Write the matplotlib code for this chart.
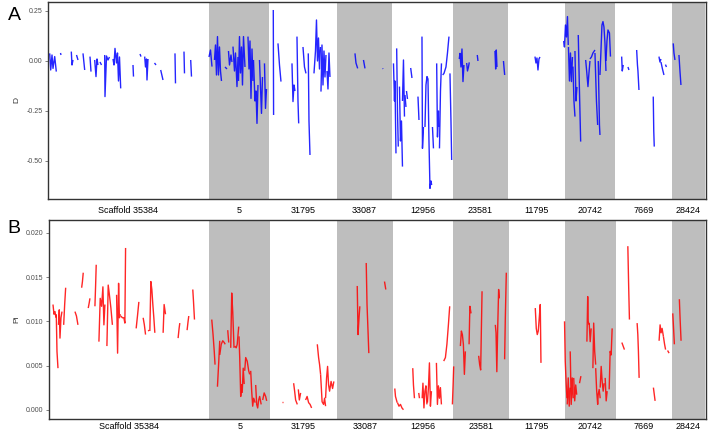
import matplotlib
matplotlib.use("Agg")
import matplotlib.pyplot as plt
import numpy as np

plt.rcParams['font.family'] = ['Liberation Sans', 'DejaVu Sans']

# scaffolds laid end to end (position units along the concatenated axis)
scaffolds = ["Scaffold 35384", "5", "31795", "33087", "12956",
             "23581", "11795", "20742", "7669", "28424"]
widths = [160, 62, 66, 57, 59, 57, 55, 52, 55, 35]
shaded = [False, True, False, True, False, True, False, True, False, True]

# Tajima's D, one list per continuous run of windows
d_x = [
    [1.7, 2.7, 4.0, 5.0, 6.7, 8.3], [12.5, 13.0], [23.3, 24.0, 25.0], [28.5, 30.0],
    [35.0, 36.7], [42.0, 43.0], [46.7, 48.0, 49.0, 50.0], [52.0, 53.5],
    [56.7, 57.0, 58.5, 60.0, 61.5], [65.0, 66.0, 67.0, 68.5, 69.5, 70.5, 71.5, 72.7],
    [85.0, 85.5], [92.0, 93.0], [96.7, 97.5, 98.5, 99.0, 100.0], [106.5, 108.0],
    [112.7, 115.0], [127.0, 127.5], [136.0, 136.5], [142.7, 143.5],
    # 5
    [161, 162.5, 164], [166.5, 167.5, 168.5, 169.5, 170.5, 171.5, 172.5, 173.5],
    [177, 179], [180.5, 181.5, 183, 184], [185, 186.5, 187.5, 189, 190],
    [190.5, 191.5, 192.5, 193.5, 194.5, 195.5, 197], [200, 201, 202, 203, 204, 205],
    [205.5, 207, 208, 209, 210], [211.5, 212.5, 213.5, 214.5], [216.5, 217.5, 218.5],
    # 31795
    [225.3, 225.6], [230.0, 231.5, 233.0], [244.0, 245.0, 246.0, 247.0],
    [249.0, 250.0, 250.7], [255.0, 256.5, 258.0], [260.3, 261.0, 262.0],
    [266.0, 267.5, 268.5, 269.5, 270.5, 271.5, 272.5],
    [273.0, 274.0, 275.0, 276.0, 277.0, 278.0], [279.0, 280.0, 281.0, 282.0],
    # 33087
    [307.0, 308.0, 309.7], [315.5, 317.0], [334.7, 335.0],
    # 12956
    [345.5, 346.5, 347.0, 348.0], [348.7, 349.5, 350.3], [351.5, 352.5, 353.5, 354.5],
    [354.5, 355.5, 356.5], [357.0, 358.0], [358.5, 359.5], [362.7, 364.0],
    [370.0, 371.0], [374.0, 374.5, 375.5],
    [377.0, 378.0, 379.0, 380.0, 381.0, 382.0, 383.0, 383.7], [384.5, 385.5],
    [388.7, 389.5, 390.5, 391.0], [391.5, 392.5, 393.5],
    [394.7, 396.0, 398.0, 399.5, 401.0], [402.0, 403.0, 403.7],
    # 23581
    [411.3, 412.0, 413.0, 414.0, 415.0, 416.0], [418.7, 419.5, 420.5, 421.3],
    [429.3, 430.0], [447.0, 447.7, 448.3, 449.0], [455.5, 456.0, 456.7],
    # 11795
    [487.0, 488.0, 489.0, 490.0, 491.0, 492.0],
    # 20742
    [515.7, 516.5, 517.5, 518.5, 519.5, 520.3], [520.5, 521.5, 522.5, 523.5, 524.5],
    [525.0, 526.0, 527.0], [527.0, 528.0, 529.0], [530.3, 531.5, 532.7],
    [537.7, 538.7, 540.0, 541.0, 542.0], [542.0, 543.5, 545.0, 547.0],
    [547.0, 548.5, 549.7], [550.3, 551.5, 552.0],
    [552.0, 553.0, 554.0, 555.0, 556.0, 557.0, 558.0], [558.0, 559.0, 560.0, 561.5, 562.5],
    # 7669
    [573.7, 574.3, 575.3], [580.0, 581.0], [588.7, 589.5, 590.0, 591.0],
    [605.3, 605.8, 606.3], [611.0, 612.0, 613.0], [613.0, 614.5, 616.0], [617.5, 618.5],
    # 28424
    [625.3, 626.0, 627.0], [631.0, 632.0, 633.0],
]
d_y = [
    [0.038, -0.045, 0.030, -0.037, 0.022, -0.053], [0.040, 0.030], [0.047, -0.020, 0.005],
    [0.030, 0.005], [0.038, -0.045], [0.022, -0.053], [0.005, -0.078, 0.010, -0.020],
    [-0.005, -0.020], [0.030, -0.178, 0.025, 0.005, 0.020],
    [0.010, -0.020, 0.063, -0.010, 0.040, -0.100, 0.020, -0.137],
    [-0.020, -0.078], [0.035, 0.022], [0.022, -0.030, 0.010, -0.095, 0.010], [-0.010, -0.020],
    [-0.045, -0.095], [0.038, -0.112], [0.047, -0.062], [0.005, -0.078],
    [0.020, 0.055, -0.028], [0.005, 0.080, -0.070, 0.122, -0.070, 0.070, -0.050, -0.100],
    [-0.030, -0.040], [0.050, -0.020, 0.030, -0.005], [0.072, -0.050, 0.040, -0.128, 0.020],
    [-0.100, 0.122, -0.060, 0.070, -0.120, 0.122, -0.030], [0.122, -0.040, 0.100, -0.187, 0.060, -0.100],
    [0.005, -0.200, -0.150, -0.312, -0.120], [0.005, -0.130, -0.262, -0.080], [-0.012, -0.237, -0.140],
    [0.255, -0.270], [0.088, -0.020, -0.103], [-0.012, -0.203, -0.120, -0.150],
    [0.122, -0.200, -0.312], [0.070, -0.030, -0.062], [0.038, -0.300, -0.470],
    [-0.062, 0.050, 0.205, 0.000, 0.115, -0.040, 0.070],
    [-0.153, 0.080, -0.120, 0.050, -0.080, 0.030], [-0.050, -0.140, 0.040, -0.080],
    [0.038, -0.010, -0.037], [0.005, -0.037], [-0.037, -0.040],
    [-0.012, -0.200, -0.100, -0.462], [0.063, -0.250, -0.428], [-0.128, -0.400, -0.300, -0.528],
    [-0.200, 0.005, -0.278], [-0.170, -0.230], [-0.150, -0.190], [-0.035, -0.085],
    [-0.178, -0.295], [0.122, -0.437, -0.330],
    [-0.330, -0.120, -0.078, -0.090, -0.400, -0.637, -0.600, -0.620], [-0.330, -0.437],
    [-0.012, -0.380, -0.250, -0.330], [-0.437, -0.150, -0.012],
    [-0.070, -0.062, -0.030, 0.040, 0.122], [-0.062, -0.300, -0.495],
    [0.010, 0.038, -0.030, 0.060, -0.103, -0.020], [-0.010, -0.050, -0.030, -0.007],
    [0.030, 0.000], [0.050, -0.040, 0.055, -0.030], [0.000, -0.030, -0.070],
    [0.022, -0.010, 0.015, -0.045, 0.010, 0.020],
    [0.100, 0.070, 0.180, 0.120, 0.222, 0.080], [0.070, -0.100, 0.040, -0.103, 0.020],
    [-0.028, -0.200, -0.278], [0.050, -0.200, -0.130], [0.130, -0.150, -0.403],
    [0.005, -0.050, -0.128, -0.060, 0.000], [0.010, 0.020, 0.040, 0.055],
    [0.040, -0.200, -0.320], [0.000, -0.320, -0.370],
    [-0.070, 0.050, 0.180, 0.197, 0.170, 0.090, -0.050], [0.000, 0.100, 0.155, 0.140, 0.022],
    [0.022, -0.050, -0.020], [-0.030, -0.045], [0.055, -0.020, -0.050, -0.145],
    [-0.178, -0.350, -0.428], [0.022, -0.005, 0.010], [-0.005, -0.040, -0.070], [-0.018, -0.030],
    [0.088, 0.040, 0.005], [0.030, -0.050, -0.120],
]

# nucleotide diversity (Pi)
pi_x = [
    [4.0, 5.0, 6.0, 7.0], [7.3, 8.0, 9.0], [9.5, 10.3, 11.0, 12.0, 13.0], [14.7, 15.7, 16.7],
    [26.0, 27.5, 29.0], [32.7, 33.5, 34.3], [39.3, 40.3, 41.0], [46.0, 46.7, 47.3],
    [50.0, 51.3, 52.7, 54.0, 55.0, 56.0], [58.0, 59.3, 60.5, 62.0, 63.5],
    [67.7, 68.7, 69.7, 70.5, 71.5], [72.0, 73.5, 75.0, 76.0, 76.7],
    [87.3, 88.7, 90.0], [94.3, 95.5, 96.7], [99.3, 100.3],
    [101.0, 102.0, 103.0, 104.0, 105.0, 106.0], [110.7, 111.2], [114.3, 115.3, 116.7],
    [129.3, 130.3, 131.0], [138.3, 139.3, 140.0], [144.0, 144.7, 145.7],
    # 5
    [163.0, 164.3, 165.5, 166.3], [168.7, 170.0, 171.0], [171.0, 172.5, 174.0, 175.5, 176.5],
    [179.0, 180.0], [182.0, 183.0, 184.0, 185.3], [186.0, 187.5, 188.5, 190.0],
    [190.3, 191.0, 192.0, 193.0], [193.5, 194.5, 195.5], [196.0, 197.0, 198.5, 200.0, 201.0],
    [202.0, 203.0, 204.0, 205.0, 206.5], [207.0, 208.0, 209.0, 210.0, 211.0, 212.5],
    [214.0, 215.5, 217.0, 218.0],
    # 31795
    [227.0, 227.5], [233.7, 234.2], [245.0, 246.0, 247.0, 248.7], [249.7, 250.7, 252.0],
    [257.0, 258.5, 260.0, 261.5, 263.0], [268.7, 270.0, 271.0, 272.0],
    [272.0, 273.5, 275.0, 276.0, 277.0],
    [277.0, 278.0, 279.0, 280.0, 281.0, 282.5, 284.0, 285.3],
    # 33087
    [308.7, 309.5, 310.5, 311.3], [317.7, 318.5, 319.5, 320.3], [336.0, 337.3],
    # 12956
    [346.3, 347.0, 348.7], [349.0, 350.5, 352.0, 353.5, 355.0], [359.3, 359.8],
    [364.3, 365.0, 366.0], [370.3, 371.0], [373.7, 374.5, 375.5, 376.5, 377.5, 378.5],
    [379.0, 380.0, 381.0, 382.0, 383.0], [388.0, 389.0, 390.0, 391.0, 392.0, 393.0],
    [395.3, 397.0, 398.5, 400.0, 401.3], [404.0, 404.7, 405.3],
    # 23581
    [412.0, 413.0, 414.0, 415.0, 416.0, 417.0], [420.7, 421.5, 422.7],
    [430.3, 431.3, 432.3, 433.7], [447.0, 447.7, 448.5, 449.3, 450.3, 451.0],
    [456.3, 457.0, 458.0],
    # 11795
    [487.0, 488.0, 489.0, 490.0, 491.0, 492.0, 492.7],
    # 20742
    [516.3, 517.0, 518.0, 518.7], [519.0, 520.0, 521.0, 522.0], [522.0, 523.0, 524.0, 525.0],
    [525.5, 526.5, 527.5, 528.5], [531.3, 532.7], [538.7, 539.5, 540.0, 541.0],
    [541.0, 542.0, 543.0], [544.7, 545.5, 546.5, 547.5],
    [547.5, 548.5, 549.5, 550.0, 551.0, 552.0], [552.0, 553.0, 554.0, 555.0, 556.0],
    [557.0, 558.0, 559.0], [561.0, 562.0, 563.0, 564.0],
    # 7669
    [573.7, 575.0, 576.3], [579.7, 580.5, 581.3], [589.0, 589.7, 590.3, 591.0],
    [605.3, 607.0], [611.0, 612.0, 613.0, 614.0, 615.3], [615.3, 616.5, 617.5], [619.5, 621.0],
    # 28424
    [624.7, 625.5, 626.3], [631.3, 632.0, 633.0],
]
pi_y = [
    [0.0119, 0.0108, 0.0111, 0.0104], [0.0108, 0.0066, 0.0047],
    [0.0096, 0.0113, 0.0081, 0.0104, 0.0111], [0.0096, 0.0119, 0.0138],
    [0.0111, 0.0106, 0.0096], [0.0138, 0.0145, 0.0155], [0.0115, 0.0121, 0.0126],
    [0.0117, 0.0141, 0.0164], [0.0077, 0.0126, 0.0117, 0.0139, 0.0096, 0.0119],
    [0.0072, 0.0141, 0.0130, 0.0115, 0.0096], [0.0130, 0.0064, 0.0143, 0.0104, 0.0108],
    [0.0106, 0.0104, 0.0104, 0.0098, 0.0183], [0.0092, 0.0107, 0.0122],
    [0.0104, 0.0096, 0.0085], [0.0090, 0.0089], [0.0089, 0.0145, 0.0136, 0.0119, 0.0104, 0.0087],
    [0.0081, 0.0081], [0.0087, 0.0119, 0.0108], [0.0081, 0.0092, 0.0098],
    [0.0090, 0.0100, 0.0106], [0.0136, 0.0123, 0.0102],
    [0.0102, 0.0085, 0.0066, 0.0051], [0.0026, 0.0054, 0.0078],
    [0.0062, 0.0074, 0.0078, 0.0076, 0.0074], [0.0090, 0.0076],
    [0.0070, 0.0132, 0.0111, 0.0070], [0.0072, 0.0070, 0.0074, 0.0094],
    [0.0083, 0.0059, 0.0015, 0.0029], [0.0019, 0.0047, 0.0029],
    [0.0044, 0.0059, 0.0055, 0.0044, 0.0040], [0.0044, 0.0021, 0.0004, 0.0013, 0.0008],
    [0.0028, 0.0006, 0.0002, 0.0011, 0.0015, 0.0006], [0.0011, 0.0019, 0.0015, 0.0010],
    [0.0002, 0.0002], [0.0009, 0.0009], [0.0030, 0.0021, 0.0011, 0.0006],
    [0.0023, 0.0011, 0.0019], [0.0011, 0.0015, 0.0008, 0.0006, 0.0002],
    [0.0074, 0.0059, 0.0051, 0.0040], [0.0040, 0.0009, 0.0006, 0.0013, 0.0004],
    [0.0013, 0.0036, 0.0049, 0.0028, 0.0021, 0.0032, 0.0024, 0.0032],
    [0.0140, 0.0085, 0.0104, 0.0117], [0.0166, 0.0119, 0.0089, 0.0064], [0.0145, 0.0136],
    [0.0024, 0.0015, 0.0008], [0.0008, 0.0004, 0.0006, 0.0002, 0.0000], [0.0028, 0.0028],
    [0.0047, 0.0028, 0.0013], [0.0019, 0.0013], [0.0013, 0.0030, 0.0002, 0.0021, 0.0027, 0.0006],
    [0.0008, 0.0025, 0.0053, 0.0004, 0.0021], [0.0053, 0.0006, 0.0027, 0.0013, 0.0025, 0.0006],
    [0.0055, 0.0059, 0.0074, 0.0096, 0.0117], [0.0006, 0.0028, 0.0049],
    [0.0072, 0.0089, 0.0085, 0.0074, 0.0040, 0.0066], [0.0074, 0.0117, 0.0109],
    [0.0061, 0.0051, 0.0045, 0.0134], [0.0096, 0.0087, 0.0043, 0.0089, 0.0136, 0.0126],
    [0.0057, 0.0104, 0.0155],
    [0.0115, 0.0092, 0.0085, 0.0089, 0.0104, 0.0119, 0.0053],
    [0.0100, 0.0055, 0.0028, 0.0013], [0.0006, 0.0036, 0.0004, 0.0025],
    [0.0066, 0.0006, 0.0036, 0.0013], [0.0036, 0.0010, 0.0028, 0.0017], [0.0030, 0.0038],
    [0.0077, 0.0128, 0.0100, 0.0096], [0.0098, 0.0077, 0.0092], [0.0047, 0.0098, 0.0066, 0.0051],
    [0.0047, 0.0021, 0.0006, 0.0017, 0.0023, 0.0013], [0.0025, 0.0049, 0.0032, 0.0021, 0.0030],
    [0.0036, 0.0010, 0.0021], [0.0023, 0.0066, 0.0062, 0.0092],
    [0.0076, 0.0072, 0.0068], [0.0185, 0.0141, 0.0102], [0.0098, 0.0085, 0.0066, 0.0036],
    [0.0025, 0.0010], [0.0078, 0.0096, 0.0087, 0.0092, 0.0083], [0.0083, 0.0074, 0.0068],
    [0.0067, 0.0064],
    [0.0109, 0.0092, 0.0074], [0.0125, 0.0104, 0.0078],
]

d_ticks = [0.25, 0.0, -0.25, -0.5]
pi_ticks = [0.0, 0.005, 0.010, 0.015, 0.020]

edges = np.concatenate([[0], np.cumsum(widths)])
centers = (edges[:-1] + edges[1:]) / 2

fig = plt.figure(figsize=(7.09, 4.32), dpi=100)
axA = fig.add_axes([0.0677, 0.5394, 0.928, 0.456])
axB = fig.add_axes([0.0691, 0.0301, 0.9267, 0.4606])


def style(ax, xs, ys, color, ylim, ticks, fmt, ylabel, pad):
    for i in range(len(widths)):
        if shaded[i]:
            ax.axvspan(edges[i] + 0.6, edges[i + 1] - 0.6, color="#BEBEBE", lw=0, zorder=0)
    for x, y in zip(xs, ys):
        ax.plot(x, y, color=color, lw=1.0, alpha=0.85, solid_capstyle="butt", zorder=2)
    ax.set_xlim(0, edges[-1])
    ax.set_ylim(*ylim)
    ax.set_yticks(ticks)
    ax.set_yticklabels([fmt.format(t) for t in ticks])
    ax.tick_params(axis="y", labelsize=5, colors="#4D4D4D", length=2, width=0.5, pad=2)
    ax.set_xticks(centers)
    ax.set_xticklabels(scaffolds)
    ax.tick_params(axis="x", length=0, labelsize=6.5, labelcolor="black", pad=pad)
    ax.set_ylabel(ylabel, fontsize=6, color="#333333", labelpad=4)
    for s in ax.spines.values():
        s.set_color("#333333")
        s.set_linewidth(1.0)


style(axA, d_x, d_y, "#0000FF", (-0.69, 0.295), d_ticks, "{:.2f}", "D", 5)
style(axB, pi_x, pi_y, "#FF0000", (-0.00105, 0.02146), pi_ticks, "{:.3f}", "Pi", 2)

fig.text(0.011, 0.965, "A", fontsize=14, va="center")
fig.text(0.011, 0.47, "B", fontsize=14, va="center")

fig.savefig("out.png", dpi=100)
